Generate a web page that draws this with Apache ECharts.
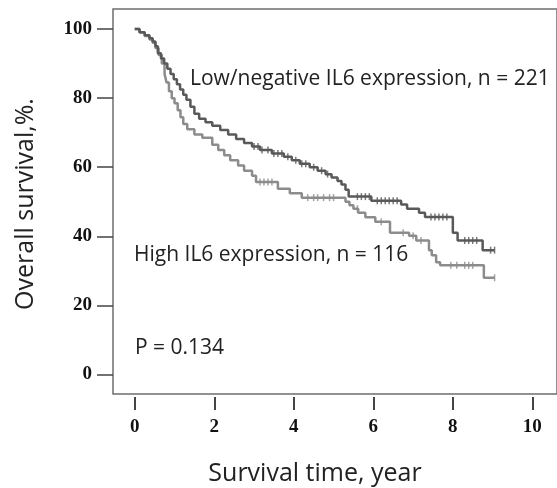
<!DOCTYPE html>
<html>
<head>
<meta charset="utf-8">
<script src="https://cdn.jsdelivr.net/npm/echarts@6/dist/echarts.min.js"></script>
<style>html,body{margin:0;padding:0;background:#fff}#c{width:557px;height:488px}</style>
</head>
<body>
<div id="c"></div>
<script>
const xTicks = [0, 2, 4, 6, 8, 10];
const yTicks = [0, 20, 40, 60, 80, 100];

const lowTime = [0, 0.12, 0.25, 0.37, 0.45, 0.52, 0.58, 0.66, 0.74, 0.82, 0.9, 0.98, 1.06, 1.14, 1.22, 1.3, 1.4, 1.5, 1.62, 1.78, 1.95, 2.15, 2.35, 2.55, 2.75, 2.95, 3.15, 3.45, 3.75, 3.95, 4.15, 4.4, 4.6, 4.8, 4.95, 5.1, 5.2, 5.3, 5.38, 5.95, 6.7, 6.85, 7.15, 7.3, 8.0, 8.12, 8.75, 9.05];
const lowSurv = [100, 99.1, 98.2, 97.3, 96.4, 95, 93, 91.5, 90, 88.5, 87, 85.5, 84, 82.5, 81, 79.5, 77.5, 75.5, 74, 73, 72, 70.8, 69.5, 68.2, 67, 66, 65, 64, 63, 62, 61, 60, 59, 58, 57, 56, 55, 53.5, 51.5, 50.3, 49.2, 48, 46.8, 45.6, 41, 38.8, 36, 36];

const highTime = [0, 0.12, 0.25, 0.37, 0.45, 0.52, 0.6, 0.68, 0.75, 0.8, 0.86, 0.93, 1.0, 1.08, 1.15, 1.22, 1.32, 1.5, 1.7, 1.95, 2.1, 2.25, 2.4, 2.6, 2.75, 2.95, 3.05, 3.6, 3.9, 4.2, 5.3, 5.4, 5.5, 5.62, 5.8, 6.05, 6.42, 6.9, 7.08, 7.4, 7.47, 7.58, 7.68, 8.78, 9.05];
const highSurv = [100, 99, 98, 97, 96, 94.5, 92.5, 90, 87, 84.5, 82, 80, 78.5, 76.5, 74.5, 72.5, 71, 69.5, 68.5, 66.5, 65, 63.5, 62, 60.5, 59, 57.5, 55.7, 53.8, 52.5, 51.2, 50, 49, 48, 46.8, 45.5, 44.2, 41, 40.2, 38.8, 36, 34.5, 32.5, 31.6, 28, 28];

const lowCensor = [3.0, 3.1, 3.2, 3.35, 3.5, 3.6, 3.7, 3.85, 4.05, 4.2, 4.3, 4.5, 4.7, 4.85, 5.6, 5.7, 5.8, 5.9, 6.1, 6.2, 6.3, 6.4, 6.5, 6.6, 7.45, 7.55, 7.65, 7.75, 7.85, 8.3, 8.4, 8.5, 8.6, 8.95, 9.05];
const highCensor = [3.15, 3.25, 3.35, 3.45, 4.35, 4.5, 4.6, 4.75, 4.9, 5.0, 5.6, 6.2, 6.75, 7.0, 7.2, 7.95, 8.1, 8.3, 8.4, 8.5, 9.05];

const lowLabel = 'Low/negative IL6 expression, n = 221';
const highLabel = 'High IL6 expression, n = 116';
const pLabel = 'P = 0.134';
const xName = 'Survival time, year';
const yName = 'Overall survival,%.';

function pairs(t, s) { return t.map((v, i) => [v, s[i]]); }
function stepAt(t, s, x) {
  let v = s[0];
  for (let i = 0; i < t.length; i++) { if (t[i] <= x) v = s[i]; }
  return v;
}
function censorPts(ct, t, s) { return ct.map(x => [x, stepAt(t, s, x)]); }

const darkC = '#595959';
const lightC = '#8c8c8c';
const sansFont = '"Open Sans", "Noto Sans", sans-serif';
const tickFont = { fontFamily: '"Liberation Serif", serif', fontWeight: 'bold', fontSize: 19, color: '#111' };

const chart = echarts.init(document.getElementById('c'), null, { renderer: 'canvas' });
chart.setOption({
  animation: false,
  backgroundColor: '#fff',
  grid: { left: 113, top: 9, bottom: 94, right: -5, show: true, borderColor: '#6e6e6e', borderWidth: 1.5, backgroundColor: 'transparent' },
  xAxis: {
    type: 'value', min: -0.547, max: 10.62, offset: 3,
    axisLine: { show: false, onZero: false },
    splitLine: { show: false },
    axisTick: { show: true, length: 13, customValues: xTicks, lineStyle: { color: '#444', width: 2 } },
    axisLabel: { customValues: xTicks, margin: 21, ...tickFont }
  },
  yAxis: {
    type: 'value', min: -5.64, max: 105.8,
    axisLine: { show: false, onZero: false },
    splitLine: { show: false },
    axisTick: { show: true, length: 16, customValues: yTicks, lineStyle: { color: '#444', width: 1.5 } },
    axisLabel: { customValues: yTicks, margin: 21, ...tickFont }
  },
  series: [
    { type: 'line', step: 'end', symbol: 'none', data: pairs(highTime, highSurv), lineStyle: { color: lightC, width: 2.5 }, z: 2 },
    { type: 'line', step: 'end', symbol: 'none', data: pairs(lowTime, lowSurv), lineStyle: { color: darkC, width: 2.5 }, z: 3 },
    { type: 'scatter', symbol: 'rect', symbolSize: [1.5, 7], data: censorPts(highCensor, highTime, highSurv), itemStyle: { color: lightC }, z: 2 },
    { type: 'scatter', symbol: 'rect', symbolSize: [1.5, 7], data: censorPts(lowCensor, lowTime, lowSurv), itemStyle: { color: darkC }, z: 3 }
  ],
  graphic: [
    { type: 'text', left: 190, top: 69, style: { text: lowLabel, font: '21px ' + sansFont, fill: '#222' } },
    { type: 'text', left: 134, top: 245, style: { text: highLabel, font: '21px ' + sansFont, fill: '#222' } },
    { type: 'text', left: 135, top: 338, style: { text: pLabel, font: '21px ' + sansFont, fill: '#222' } },
    { type: 'text', x: 315, y: 474, style: { text: xName, font: '25px ' + sansFont, fill: '#222', align: 'center', verticalAlign: 'middle' } },
    { type: 'text', x: 26, y: 204, rotation: Math.PI / 2, style: { text: yName, font: '25px ' + sansFont, fill: '#222', align: 'center', verticalAlign: 'middle' } }
  ]
});
</script>
</body>
</html>
